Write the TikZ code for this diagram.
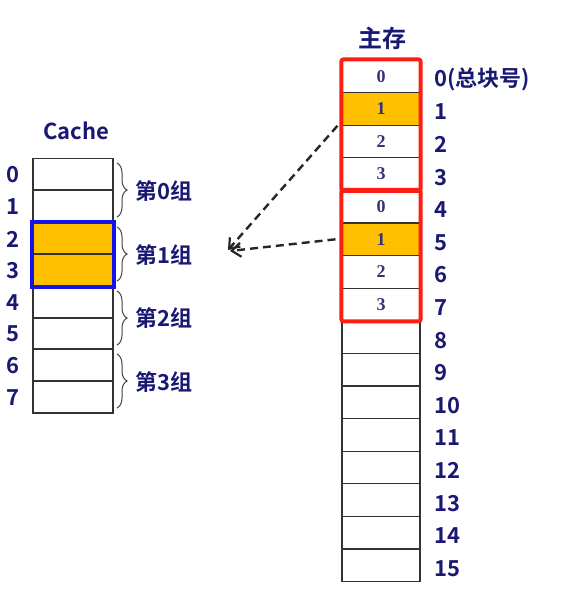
\documentclass[tikz,border=0pt]{standalone}
\usepackage{fontspec}
\newfontfamily\cjkfont{Noto Sans CJK SC}[BoldFont={Noto Sans CJK SC Bold}]
\newfontfamily\numfont{Liberation Serif}
\usetikzlibrary{arrows.meta,decorations.pathreplacing}
\definecolor{navy}{RGB}{25,25,115}
\definecolor{cellnum}{RGB}{50,50,120}
\definecolor{gold}{RGB}{255,192,0}
\definecolor{boxred}{RGB}{250,30,20}
\definecolor{boxblue}{RGB}{20,20,230}
\tikzset{
  cbox/.style={draw=black!80, line width=1.1pt, minimum width=80pt, minimum height=31.9pt, inner sep=0pt},
  mbox/.style={draw=black!80, line width=1.1pt, minimum width=78pt, minimum height=32.6pt, inner sep=0pt, font=\numfont\bfseries\fontsize{18}{18}\selectfont, text=cellnum},
  lbl/.style={font=\cjkfont\bfseries\fontsize{22}{24}\selectfont, text=navy, inner sep=0pt},
  grp/.style={decorate, decoration={brace, amplitude=10pt}, line width=1pt, black!75},
  link/.style={dash pattern=on 8pt off 5pt, line width=2.4pt, black!85, -{Straight Barb[length=9pt,width=14pt,line width=2.2pt]}}
}

\begin{document}
\begin{tikzpicture}[x=1pt,y=-1pt]
			%%%%% START %%%%%
			\useasboundingbox (0,0) rectangle (566,597);
			
			% Cache
			\node[lbl] (ctitle) at (76,131) {Cache};
			\node[cbox] (c0) at (73,174) {};
			\node[cbox] (c1) at (73,206) {};
			\node[cbox, fill=gold] (c2) at (73,238) {};
			\node[cbox, fill=gold] (c3) at (73,270) {};
			\node[cbox] (c4) at (73,302) {};
			\node[cbox] (c5) at (73,333) {};
			\node[cbox] (c6) at (73,365) {};
			\node[cbox] (c7) at (73,397) {};
			\draw[boxblue, line width=4pt] (c2.north west) rectangle (c3.south east);
			
			\foreach \i/\y in {0/175,1/207,2/239,3/271,4/303,5/334,6/366,7/398}
			  \node[lbl] (cn\i) at (13,\y) {\i};
			
			\draw[grp] (117,163) -- (117,217);
			\draw[grp] (117,227) -- (117,281);
			\draw[grp] (117,291) -- (117,345);
			\draw[grp] (117,354) -- (117,408);
			\node[lbl, anchor=west] (g0) at (135,191) {第0组};
			\node[lbl, anchor=west] (g1) at (135,255) {第1组};
			\node[lbl, anchor=west] (g2) at (135,318) {第2组};
			\node[lbl, anchor=west] (g3) at (135,382) {第3组};
			
			% main memory
			\node[lbl, font=\cjkfont\bfseries\fontsize{24}{26}\selectfont] (mtitle) at (382,38) {主存};
			\node[mbox] (m0) at (381,76.3) {0};
			\node[mbox, fill=gold] (m1) at (381,108.9) {1};
			\node[mbox] (m2) at (381,141.5) {2};
			\node[mbox] (m3) at (381,174.1) {3};
			\node[mbox] (m4) at (381,206.7) {0};
			\node[mbox, fill=gold] (m5) at (381,239.3) {1};
			\node[mbox] (m6) at (381,271.9) {2};
			\node[mbox] (m7) at (381,304.5) {3};
			\node[mbox] (m8) at (381,337.1) {};
			\node[mbox] (m9) at (381,369.7) {};
			\node[mbox] (m10) at (381,402.3) {};
			\node[mbox] (m11) at (381,434.9) {};
			\node[mbox] (m12) at (381,467.5) {};
			\node[mbox] (m13) at (381,500.1) {};
			\node[mbox] (m14) at (381,532.7) {};
			\node[mbox] (m15) at (381,565.3) {};
			\draw[boxred, line width=4pt, rounded corners=2pt] (m0.north west) rectangle (m3.south east);
			\draw[boxred, line width=4pt, rounded corners=2pt] (m4.north west) rectangle (m7.south east);
			
			\node[lbl, anchor=west] (mn0) at (434,79.3) {0(总块号)};
			\foreach \i in {1,...,15}
			  \node[lbl, anchor=west] (mn\i) at (434,{79.3+32.6*\i}) {\i};
			
			% mapping
			\coordinate (hit) at (228,250);
			\draw[link] ([xshift=-4pt]m1.south west) -- (hit);
			\draw[link] ([xshift=-6pt]m5.west) -- ([xshift=2pt,yshift=-1pt]hit);
			
			%%%%% END %%%%%
\end{tikzpicture}
\end{document}
